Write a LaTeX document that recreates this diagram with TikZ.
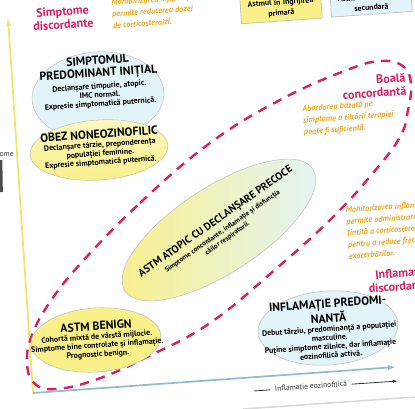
\documentclass[tikz,border=0pt]{standalone}
\usepackage{fontspec}
\setmainfont{PT Sans}
\usepackage{tikz}
\usetikzlibrary{arrows.meta}

\definecolor{crimson}{HTML}{D81F63}
\definecolor{amber}{HTML}{EFA822}
\definecolor{lemon}{HTML}{F9F08A}
\definecolor{ice}{HTML}{E3F4F8}
\definecolor{steel}{HTML}{92BCCB}
\definecolor{straw}{HTML}{F2E36B}

\begin{document}
\begin{tikzpicture}[x=0.75pt,y=-0.75pt,
  head/.style={font=\bfseries\fontsize{8.8}{9.3}\selectfont,align=center,rotate=#1,inner sep=1pt},
  head/.default=4,
  body/.style={font=\bfseries\fontsize{5.9}{6.6}\selectfont,align=center,rotate=#1,inner sep=1pt},
  body/.default=4,
  tag/.style={text=crimson,font=\bfseries\fontsize{9.1}{10}\selectfont,rotate=4,inner sep=0pt},
  hint/.style={text=amber,font=\bfseries\itshape\fontsize{6.2}{8.7}\selectfont,align=left,rotate=4,inner sep=0pt},
  bubble/.style={draw=black!25,line width=0.4pt},
  careBox/.style={draw=black!30,line width=0.4pt,text width=54pt,align=center,
    font=\bfseries\fontsize{5.9}{8}\selectfont,rotate=4,inner ysep=3pt}]
\useasboundingbox (0,0) rectangle (415,408);

% axes
\coordinate (o) at (33,393);
\coordinate (ytip) at (8,18);
\coordinate (xtip) at (396,367);
\draw[straw,line width=1.3pt,-{Latex[length=6pt,width=4pt]}] (o) -- (ytip);
\draw[steel,line width=1.3pt,-{Latex[length=6pt,width=4pt]}] (o) -- (xtip);
\node[font=\fontsize{5.7}{6}\selectfont,rotate=4,text=black!80] (xlab) at (311,387) {Inflamație eozinofilică};
\coordinate (xl) at (254,391);
\coordinate (xr) at (398,381);
\draw[black!80,line width=0.6pt] (xl) -- (xlab.west);
\draw[black!80,line width=0.6pt,-{Latex[length=4pt,width=2.5pt]}] (xlab.east) -- (xr);
\node[font=\fontsize{5.7}{6}\selectfont,anchor=east,inner sep=0pt,text=black!80] (ylab) at (14,155) {Simptome};
\coordinate (yb1) at (1,160);
\coordinate (yb2) at (1.5,192);
\draw[black!70,line width=2pt] (yb1) -- (yb2);
\coordinate (g1) at (243,409);
\coordinate (g2) at (416,397);
\draw[black!15,line width=1.2pt] (g1) -- (g2);

% concordant disease zone
\draw[crimson,line width=1.8pt,dash pattern=on 7pt off 5.5pt] plot[smooth cycle,tension=0.7] coordinates {
  (82,262) (140,203) (210,143) (280,100) (347,70) (382,61) (404,67) (411,85)
  (408,110) (400,137) (373,173) (333,217) (277,268) (210,323) (147,357)
  (95,380) (55,389) (34,383) (27,362) (32,335) (50,302)};

% bubbles
\coordinate (sym) at (98,96);
\filldraw[bubble,fill=ice,rotate around={4:(sym)}] (sym) ellipse [x radius=66, y radius=44];
\coordinate (obez) at (99,150);
\shadedraw[bubble,top color=lemon!55,bottom color=lemon,rotate around={4:(obez)}] (obez) ellipse [x radius=69, y radius=30];
\coordinate (atop) at (219,230);
\shadedraw[bubble,left color=lemon,right color=ice,rotate around={33:(atop)}] (atop) ellipse [x radius=112, y radius=43];
\coordinate (benign) at (96,340);
\filldraw[bubble,fill=lemon,rotate around={4:(benign)}] (benign) ellipse [x radius=65, y radius=32];
\coordinate (infl) at (328,328);
\filldraw[bubble,fill=ice,rotate around={4:(infl)}] (infl) ellipse [x radius=70, y radius=37];

\node[head] (symT) at (98,68) {SIMPTOMUL\\PREDOMINANT INIȚIAL};
\node[body,anchor=north] (symB) at (symT.south) {Declanșare timpurie, atopic.\\IMC normal.\\Expresie simptomatică puternică.};
\node[head] (obezT) at (99,134) {OBEZ NONEOZINOFILIC};
\node[body,anchor=north] (obezB) at (obezT.south) {Declanșare târzie, preponderența\\populației feminine.\\Expresie simptomatică puternică.};
\node[head=35,font=\bfseries\fontsize{7.9}{9}\selectfont] (atopT) at (216,222) {ASTM ATOPIC CU DECLANȘARE PRECOCE};
\node[body=35,font=\bfseries\fontsize{5.2}{6.4}\selectfont,anchor=north] (atopB) at (atopT.south) {Simptome concordante, inflamație și disfuncția\\căilor respiratorii.};
\node[head] (benT) at (96,326) {ASTM BENIGN};
\node[body,anchor=north] (benB) at (benT.south) {Cohortă mixtă de vârstă mijlocie.\\Simptome bine controlate și inflamație.\\Prognostic benign.};
\node[head] (inflT) at (328,311) {INFLAMAȚIE PREDOMI-\\NANTĂ};
\node[body,anchor=north] (inflB) at (inflT.south) {Debut târziu, predominanță a populației\\masculine.\\Puține simptome zilnice, dar inflamație\\eozinofilică activă.};

% labels
\node[tag,align=center] (discS) at (63,18) {Simptome\\discordante};
\node[tag,align=right,anchor=east] (concB) at (406,84) {Boală\\concordantă};
\node[tag,align=right,anchor=west] (discI) at (368,282) {Inflamație\\discordantă};
\node[hint,anchor=west] (hintTop) at (112,14) {Monitorizarea inflamației\\permite reducerea dozei\\de corticosteroizi.};
\node[hint,anchor=west] (hintConc) at (303,121) {Abordarea bazată pe\\simptome a titrării terapiei\\poate fi suficientă.};
\node[hint,anchor=west] (hintInfl) at (347,233) {Monitorizarea inflamației\\permite administrarea\\țintită a corticosteroizilor\\pentru a reduce frecvența\\exacerbărilor.};
\node[careBox,fill=lemon] (primary) at (281,8) {Astmul în îngrijirea\\primară};
\node[careBox,fill=ice] (secondary) at (371,2) {Astmul în îngrijirea\\secundară};
\end{tikzpicture}
\end{document}
